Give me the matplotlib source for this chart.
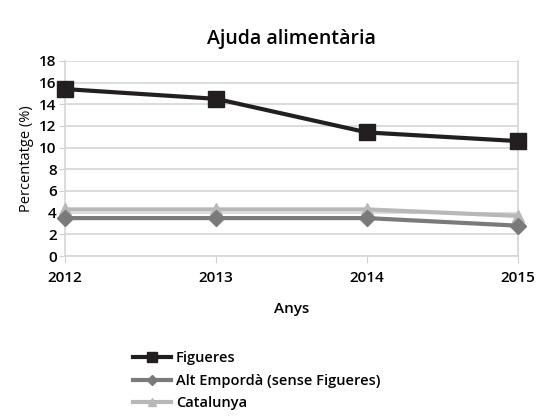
import matplotlib
matplotlib.use("Agg")
import matplotlib.pyplot as plt

years = [2012, 2013, 2014, 2015]
figueres = [15.4, 14.5, 11.4, 10.6]
alt_emporda = [3.5, 3.5, 3.5, 2.8]
catalunya = [4.3, 4.3, 4.3, 3.7]

plt.rcParams['font.family'] = ['Open Sans', 'DejaVu Sans']

fig = plt.figure(figsize=(5.37, 4.17), dpi=100)
ax = fig.add_axes([0.121, 0.386, 0.844, 0.468])

ax.plot(years, catalunya, color='#b8b8b8', lw=3, marker='^', ms=9, clip_on=False, zorder=3, label='Catalunya')
ax.plot(years, alt_emporda, color='#7a7a7a', lw=3, marker='D', ms=8, clip_on=False, zorder=4, label='Alt Empordà (sense Figueres)')
ax.plot(years, figueres, color='#231f20', lw=3, marker='s', ms=11, clip_on=False, zorder=5, label='Figueres')

ax.set_xlim(2012, 2015)
ax.set_ylim(0, 18)
ax.set_yticks(range(0, 19, 2))
ax.set_xticks(years)
ax.set_xticklabels([str(y) for y in years], fontsize=11, fontweight='semibold')
ax.tick_params(axis='y', labelsize=11, length=4, color='#d0d0d0', pad=2)
ax.tick_params(axis='x', length=5, color='#d0d0d0', pad=6)
for lab in ax.get_yticklabels():
    lab.set_fontweight('semibold')
ax.grid(axis='y', color='#d6d6d6', lw=1.2)
for s in ['left', 'right']:
    ax.spines[s].set_color('#d6d6d6')
    ax.spines[s].set_linewidth(1.2)
ax.spines['top'].set_visible(False)
ax.spines['bottom'].set_color('#d6d6d6')
ax.spines['bottom'].set_linewidth(1.2)

ax.set_title('Ajuda alimentària', fontsize=14, fontweight='semibold', pad=12)
ax.set_xlabel('Anys', fontsize=11, fontweight='semibold', labelpad=12)
ax.set_ylabel('Percentatge (%)', fontsize=10.5, labelpad=4)

h, l = ax.get_legend_handles_labels()
fig.legend(h[::-1], l[::-1], loc='upper left', bbox_to_anchor=(0.235, 0.176),
           frameon=False, handlelength=2.6, labelspacing=0.6, markerscale=0.6,
           handletextpad=0.3, prop={'weight': 'semibold', 'size': 10.5}, borderpad=0)

fig.savefig('out.png', dpi=100)
